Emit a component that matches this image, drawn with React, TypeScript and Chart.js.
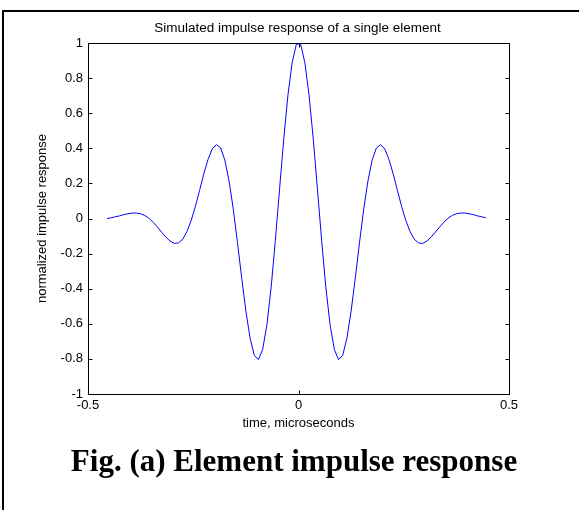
import { useEffect, useRef } from "react";
import { Chart, registerables } from "chart.js";

Chart.register(...registerables);

// time samples (microseconds)
const timeUs = [
  -0.455, -0.445, -0.435, -0.425, -0.415, -0.405, -0.395, -0.385, -0.375, -0.365,
  -0.355, -0.345, -0.335, -0.325, -0.315, -0.305, -0.295, -0.285, -0.275, -0.265,
  -0.255, -0.245, -0.235, -0.225, -0.215, -0.205, -0.195, -0.185, -0.175, -0.165,
  -0.155, -0.145, -0.135, -0.125, -0.115, -0.105, -0.095, -0.085, -0.075, -0.065,
  -0.055, -0.045, -0.035, -0.025, -0.015, -0.005,
  0.005, 0.015, 0.025, 0.035, 0.045, 0.055, 0.065, 0.075, 0.085, 0.095,
  0.105, 0.115, 0.125, 0.135, 0.145, 0.155, 0.165, 0.175, 0.185, 0.195,
  0.205, 0.215, 0.225, 0.235, 0.245, 0.255, 0.265, 0.275, 0.285, 0.295,
  0.305, 0.315, 0.325, 0.335, 0.345, 0.355, 0.365, 0.375, 0.385, 0.395,
  0.405, 0.415, 0.425, 0.435, 0.445,
];

// normalized impulse response
const response = [
  0.0, 0.004, 0.01, 0.015, 0.022, 0.027, 0.031, 0.031, 0.027, 0.017,
  0.001, -0.022, -0.049, -0.078, -0.106, -0.129, -0.142, -0.139, -0.118, -0.075,
  -0.012, 0.068, 0.16, 0.253, 0.336, 0.396, 0.421, 0.402, 0.333, 0.215,
  0.055, -0.136, -0.337, -0.527, -0.682, -0.78, -0.804, -0.745, -0.605, -0.393,
  -0.125, 0.167, 0.454, 0.705, 0.889, 0.994,
  0.994, 0.889, 0.705, 0.454, 0.167, -0.125, -0.393, -0.605, -0.745, -0.804,
  -0.78, -0.682, -0.527, -0.337, -0.136, 0.055, 0.215, 0.333, 0.402, 0.421,
  0.396, 0.336, 0.253, 0.16, 0.068, -0.012, -0.075, -0.118, -0.139, -0.142,
  -0.129, -0.106, -0.078, -0.049, -0.022, 0.001, 0.017, 0.027, 0.031, 0.031,
  0.027, 0.022, 0.015, 0.01, 0.004,
];

const xTickValues = [-0.5, 0, 0.5];
const yTickValues = [-1, -0.8, -0.6, -0.4, -0.2, 0, 0.2, 0.4, 0.6, 0.8, 1];

const titleText = "Simulated impulse response of a single element";
const xTitleText = "time, microseconds";
const yTitleText = "normalized impulse response";
const captionText = "Fig. (a) Element impulse response";

const fmt = (v: number) => {
  const r = Number(v.toFixed(1));
  return r === 0 ? "0" : String(r);
};

const framePlugin = {
  id: "matlabFrame",
  beforeDatasetsDraw(chart: any) {
    const { ctx, chartArea } = chart;
    const l = Math.round(chartArea.left) + 0.5;
    const r = Math.round(chartArea.right) + 0.5;
    const t = Math.round(chartArea.top) + 0.5;
    const b = Math.round(chartArea.bottom) + 0.5;
    ctx.save();
    ctx.strokeStyle = "#000";
    ctx.lineWidth = 1;
    ctx.strokeRect(l, t, r - l, b - t);
    ctx.beginPath();
    const tk = 4;
    for (const v of yTickValues) {
      const p = Math.round(chart.scales.y.getPixelForValue(v)) + 0.5;
      ctx.moveTo(l, p);
      ctx.lineTo(l + tk, p);
      ctx.moveTo(r, p);
      ctx.lineTo(r - tk, p);
    }
    for (const v of xTickValues) {
      const p = Math.round(chart.scales.x.getPixelForValue(v)) + 0.5;
      ctx.moveTo(p, b);
      ctx.lineTo(p, b - tk);
      ctx.moveTo(p, t);
      ctx.lineTo(p, t + tk);
    }
    ctx.stroke();
    ctx.restore();
  },
  afterDraw(chart: any) {
    const { ctx, chartArea } = chart;
    const cx = (chartArea.left + chartArea.right) / 2;
    const cy = (chartArea.top + chartArea.bottom) / 2;
    ctx.save();
    ctx.fillStyle = "#000";
    ctx.textAlign = "center";
    ctx.textBaseline = "middle";
    ctx.font = '13.5px "Liberation Sans", Arial, sans-serif';
    ctx.fillText(titleText, cx - 1, 28);
    ctx.font = '13px "Liberation Sans", Arial, sans-serif';
    ctx.fillText(xTitleText, cx, 423);
    ctx.save();
    ctx.translate(42, cy);
    ctx.rotate(-Math.PI / 2);
    ctx.fillText(yTitleText, 0, 0);
    ctx.restore();
    ctx.textBaseline = "alphabetic";
    ctx.font = 'bold 31px "Liberation Serif", "Times New Roman", serif';
    ctx.fillText(captionText, 294, 471);
    // page frame
    ctx.fillRect(2, 10, 2, 500);
    ctx.fillRect(2, 10, 577, 2);
    ctx.restore();
  },
};

export default function App() {
  const ref = useRef<HTMLCanvasElement | null>(null);

  useEffect(() => {
    if (!ref.current) return;
    const points = timeUs.map((t, i) => ({ x: t, y: response[i] }));
    const tickFont = { family: '"Liberation Sans", Arial, sans-serif', size: 13 };
    const chart = new Chart(ref.current, {
      type: "line",
      data: {
        datasets: [
          {
            data: points,
            borderColor: "#0000ff",
            borderWidth: 1,
            pointRadius: 0,
            tension: 0,
            fill: false,
          },
        ],
      },
      options: {
        animation: false,
        responsive: false,
        devicePixelRatio: 1,
        parsing: false as any,
        layout: { padding: { top: 43, right: 70, left: 0, bottom: 0 } },
        plugins: {
          legend: { display: false },
          tooltip: { enabled: false },
          title: { display: false },
        },
        scales: {
          x: {
            type: "linear",
            min: -0.5,
            max: 0.5,
            grid: { display: false, drawTicks: false },
            border: { display: false },
            afterBuildTicks: (s: any) => {
              s.ticks = xTickValues.map((v) => ({ value: v }));
            },
            afterFit: (s: any) => {
              s.height = 116;
            },
            ticks: {
              color: "#000",
              font: tickFont,
              padding: 4,
              maxRotation: 0,
              autoSkip: false,
              callback: (v: any) => fmt(Number(v)),
            },
          },
          y: {
            type: "linear",
            min: -1,
            max: 1,
            grid: { display: false, drawTicks: false },
            border: { display: false },
            afterBuildTicks: (s: any) => {
              s.ticks = yTickValues.map((v) => ({ value: v }));
            },
            afterFit: (s: any) => {
              s.width = 88;
            },
            ticks: {
              color: "#000",
              font: tickFont,
              padding: 5,
              autoSkip: false,
              callback: (v: any) => fmt(Number(v)),
            },
          },
        },
      },
      plugins: [framePlugin],
    });
    return () => chart.destroy();
  }, []);

  return (
    <div style={{ position: "absolute", left: 0, top: 0, width: 579, height: 510, background: "#fff" }}>
      <canvas ref={ref} width={579} height={510} style={{ display: "block" }} />
    </div>
  );
}
